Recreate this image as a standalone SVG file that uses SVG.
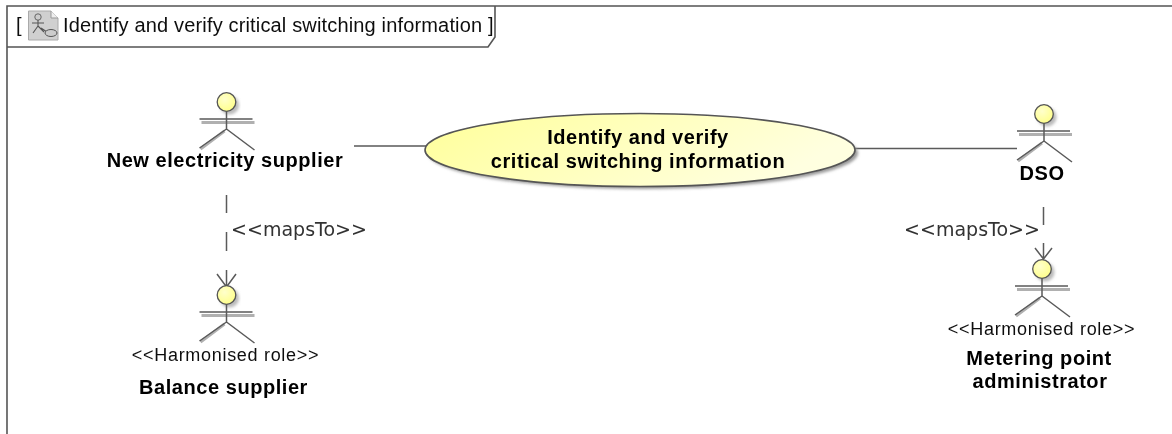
<svg xmlns="http://www.w3.org/2000/svg" width="1172" height="434" viewBox="0 0 1172 434">
<style>
.b{font-family:"Liberation Sans",Arial,sans-serif;font-weight:700;font-size:20px;letter-spacing:.55px;fill:#000;text-anchor:middle}
.s{font-family:"Liberation Sans",Arial,sans-serif;font-size:18px;letter-spacing:.7px;fill:#111;text-anchor:middle}
.m{font-family:"DejaVu Sans",sans-serif;font-size:19px;fill:#333;text-anchor:middle}
.t{font-family:"Liberation Sans",Arial,sans-serif;font-size:20px;letter-spacing:.16px;fill:#111}
.l{stroke:#5a5a5a;stroke-width:1.5;fill:none}
.sh{stroke:#b0b0b0;stroke-width:3;fill:none}
.hd{stroke:#555;stroke-width:1.3}
.hs{fill:#bbb}
</style>
<defs>
<linearGradient id="g" x1="0" y1="0" x2="1" y2="0.3"><stop offset="0" stop-color="#ffff99"/><stop offset="1" stop-color="#ffffe0"/></linearGradient>
<radialGradient id="h" cx="0.4" cy="0.35" r="0.7"><stop offset="0" stop-color="#ffffcc"/><stop offset="1" stop-color="#ffff88"/></radialGradient>
<filter id="soft" x="-5%" y="-5%" width="110%" height="110%"><feGaussianBlur stdDeviation="0.45"/></filter>
<filter id="shb" x="-10%" y="-20%" width="120%" height="140%"><feGaussianBlur stdDeviation="1.5"/></filter>
<g id="actor">
<circle class="hs" cx="3" cy="3" r="9.500" filter="url(#shb)"/>
<path class="sh" d="M-25 20.500H28M-2 29L-26 47"/>
<path class="l" d="M0 9V27M-27 17H26M0 27L-27 46M0 27L28 48"/>
<circle class="hd" style="fill:url(#h)" r="9.300"/>
</g>
</defs>
<rect width="1172" height="434" fill="#fff"/>
<g filter="url(#soft)">
<g id="frame">
<path d="M7 434V6H1172" fill="none" stroke="#555" stroke-width="1.6"/>
<path d="M7 47H488L495 37V6" fill="none" stroke="#555" stroke-width="1.6"/>
<text class="t" x="16" y="32">[</text>
<path d="M28.500 11H51L58 18V40H28.500Z" fill="#d0d0d0" stroke="#aaa"/>
<path d="M51 11V18H58" fill="#eee" stroke="#999"/>
<circle cx="38" cy="17" r="3.200" fill="#ccc" stroke="#666"/>
<path d="M38 20V26M32 23H44M38 26L33 33M38 26L44 32M41 28L47 32" fill="none" stroke="#555" stroke-width="1.100"/>
<ellipse cx="51" cy="33" rx="6" ry="3.500" fill="#ccc" stroke="#555"/>
<text class="t" x="63" y="32">Identify and verify critical switching information ]</text>
</g>
<g id="connectors">
<path class="l" d="M354 146H426M855 148.500H1017"/>
<path class="l" d="M226.500 195V213M226.500 232V251M226.500 270V287M217 274L226.500 287L236 274"/>
<path class="l" d="M1043.500 207V225M1043.500 243V259M1035 248L1043.500 259L1052 248"/>
</g>
<g id="uc">
<ellipse cx="643" cy="153" rx="215" ry="36" fill="#999" filter="url(#shb)"/>
<ellipse cx="640" cy="150" rx="215" ry="36.500" fill="url(#g)" stroke="#555" stroke-width="1.600"/>
<text class="b" x="638" y="144">Identify and verify</text>
<text class="b" x="638" y="168">critical switching information</text>
</g>
<g id="a1"><use href="#actor" x="226.500" y="102"/><text class="b" x="225" y="167">New electricity supplier</text></g>
<g id="a2"><use href="#actor" x="226.500" y="295"/><text class="s" x="225.500" y="361">&lt;&lt;Harmonised role&gt;&gt;</text><text class="b" x="223.500" y="394">Balance supplier</text></g>
<g id="a3"><use href="#actor" x="1044" y="114"/><text class="b" x="1042" y="180">DSO</text></g>
<g id="a4"><use href="#actor" x="1042" y="269"/><text class="s" x="1041.500" y="335">&lt;&lt;Harmonised role&gt;&gt;</text><text class="b" x="1039" y="365">Metering point</text><text class="b" x="1040" y="388">administrator</text></g>
<text class="m" x="299" y="236">&lt;&lt;mapsTo&gt;&gt;</text>
<text class="m" x="972" y="236">&lt;&lt;mapsTo&gt;&gt;</text>
</g>
</svg>
